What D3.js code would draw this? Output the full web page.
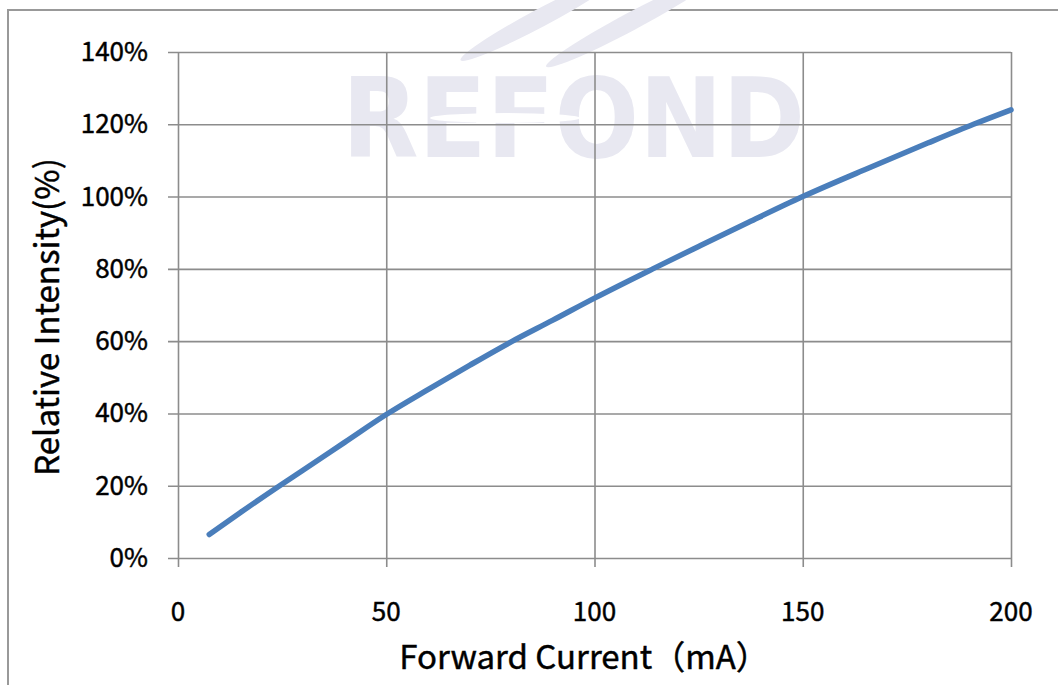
<!DOCTYPE html>
<html>
<head>
<meta charset="utf-8">
<script src="https://cdn.jsdelivr.net/npm/d3@7"></script>
<style>
  body { margin: 0; background: #fff; }
  svg { display: block; font-family: "Noto Sans CJK SC", "Noto Sans", sans-serif; }
  .lbl { fill: #000; stroke: #000; stroke-width: 0.45px; }
</style>
</head>
<body>
<div id="chart"></div>
<script>
// data
var current = [7.5, 15, 24.4, 30, 40, 50, 60, 70, 80, 90, 100, 114, 125, 137, 150, 165, 180, 191, 200];
var intensity = [6.5, 12.6, 20, 24.3, 32.0, 39.7, 46.6, 53.3, 59.8, 65.8, 71.9, 80, 86.2, 92.9, 100, 107.5, 114.8, 120, 124];
var xTicks = [0, 50, 100, 150, 200];
var yTicks = [0, 20, 40, 60, 80, 100, 120, 140];

var svgWidth = 1058;
var svgHeight = 685;
var margin = { top: 52, right: 47, bottom: 127, left: 178 };
var width = svgWidth - margin.left - margin.right;
var height = svgHeight - margin.top - margin.bottom;

var svg = d3.select("#chart")
  .append("svg")
  .attr("width", svgWidth)
  .attr("height", svgHeight);

// outer frame (top + left)
svg.append("path")
  .attr("d", "M8,685 V10 H1058")
  .attr("fill", "none")
  .attr("stroke", "#999")
  .attr("stroke-width", 2);

// watermark
var wm = svg.append("g").attr("fill", "#e8e8f1");
wm.append("ellipse").attr("transform", "translate(540,18) rotate(-28)").attr("rx", 90).attr("ry", 9);
wm.append("ellipse").attr("transform", "translate(630,22) rotate(-28)").attr("rx", 95).attr("ry", 9);
wm.append("text")
  .attr("x", 342).attr("y", 157)
  .attr("textLength", 463)
  .attr("lengthAdjust", "spacingAndGlyphs")
  .style("font-family", "'DejaVu Sans Condensed', 'DejaVu Sans', sans-serif")
  .style("font-weight", "bold")
  .style("font-size", "110px")
  .text("REFOND");
svg.append("ellipse").attr("cx", 505).attr("cy", 118).attr("rx", 75).attr("ry", 5).attr("fill", "#fff");

var chartGroup = svg.append("g")
  .attr("transform", `translate(${margin.left}, ${margin.top})`);

var x = d3.scaleLinear().domain([0, 200]).range([0, width]);
var y = d3.scaleLinear().domain([0, 140]).range([height, 0]);

// gridlines with outside tick marks
var gridColor = "#8c8c8c";
chartGroup.append("g")
  .attr("transform", `translate(0, ${height})`)
  .call(d3.axisBottom(x).tickValues(xTicks).tickSize(-height).tickSizeOuter(0).tickFormat(""))
  .call(g => g.select(".domain").remove())
  .call(g => g.selectAll("line").attr("stroke", gridColor).attr("stroke-width", 1.6).attr("y1", 9));

chartGroup.append("g")
  .call(d3.axisLeft(y).tickValues(yTicks).tickSize(-width).tickSizeOuter(0).tickFormat(""))
  .call(g => g.select(".domain").remove())
  .call(g => g.selectAll("line").attr("stroke", gridColor).attr("stroke-width", 1.6).attr("x1", -10));

// tick labels
chartGroup.append("g")
  .selectAll("text")
  .data(xTicks)
  .enter()
  .append("text")
  .attr("class", "lbl")
  .attr("x", d => x(d))
  .attr("y", height + 63)
  .attr("text-anchor", "middle")
  .style("font-size", "26px")
  .text(d => d);

chartGroup.append("g")
  .selectAll("text")
  .data(yTicks)
  .enter()
  .append("text")
  .attr("class", "lbl")
  .attr("x", -30)
  .attr("y", d => y(d) + 9)
  .attr("text-anchor", "end")
  .style("font-size", "26px")
  .text(d => d + "%");

// curve
var line = d3.line()
  .x((d, i) => x(current[i]))
  .y(d => y(d))
  .curve(d3.curveMonotoneX);

chartGroup.append("path")
  .datum(intensity)
  .attr("d", line)
  .attr("fill", "none")
  .attr("stroke", "#4a7ebb")
  .attr("stroke-width", 5.5)
  .attr("stroke-linecap", "round");

// axis titles
svg.append("text")
  .attr("class", "lbl")
  .attr("x", 584)
  .attr("y", 669)
  .attr("text-anchor", "middle")
  .style("font-size", "33px")
  .text("Forward Current（mA）");

svg.append("text")
  .attr("class", "lbl")
  .attr("transform", "translate(59, 317) rotate(-90)")
  .attr("text-anchor", "middle")
  .style("font-size", "33px")
  .text("Relative Intensity(%)");
</script>
</body>
</html>
